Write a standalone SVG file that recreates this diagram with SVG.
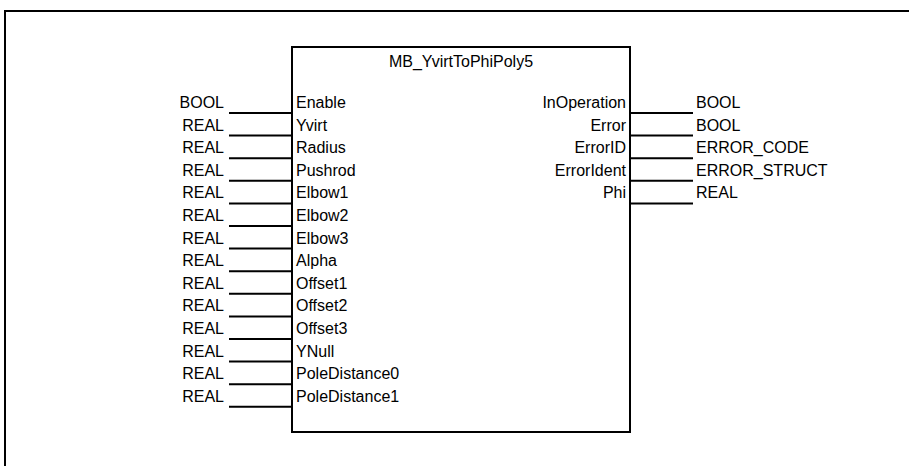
<svg xmlns="http://www.w3.org/2000/svg" width="909" height="466" viewBox="0 0 909 466">
<style>
text{font-family:"Liberation Sans",Arial,sans-serif;font-size:16px;fill:#000}
.r{text-anchor:end}
.c{text-anchor:middle}
.w{stroke:#000;stroke-width:2;fill:none}
</style>
<rect width="909" height="466" fill="#fff"/>
<g id="frame"><path class="w" d="M5,466 V11 H909"/></g>
<g id="block">
<rect class="w" x="292" y="47" width="338" height="385" fill="#fff"/>
<text class="c" x="461" y="66.5">MB_YvirtToPhiPoly5</text>
<text x="296" y="108">Enable</text>
<text x="296" y="130.6">Yvirt</text>
<text x="296" y="153.2">Radius</text>
<text x="296" y="175.8">Pushrod</text>
<text x="296" y="198.4">Elbow1</text>
<text x="296" y="221">Elbow2</text>
<text x="296" y="243.6">Elbow3</text>
<text x="296" y="266.2">Alpha</text>
<text x="296" y="288.8">Offset1</text>
<text x="296" y="311.4">Offset2</text>
<text x="296" y="334">Offset3</text>
<text x="296" y="356.6">YNull</text>
<text x="296" y="379.2">PoleDistance0</text>
<text x="296" y="401.8">PoleDistance1</text>
<text class="r" x="626" y="108">InOperation</text>
<text class="r" x="626" y="130.6">Error</text>
<text class="r" x="626" y="153.2">ErrorID</text>
<text class="r" x="626" y="175.8">ErrorIdent</text>
<text class="r" x="626" y="198.4">Phi</text>
</g>
<g id="inputs">
<text class="r" x="224" y="108">BOOL</text>
<text class="r" x="224" y="130.6">REAL</text>
<text class="r" x="224" y="153.2">REAL</text>
<text class="r" x="224" y="175.8">REAL</text>
<text class="r" x="224" y="198.4">REAL</text>
<text class="r" x="224" y="221">REAL</text>
<text class="r" x="224" y="243.6">REAL</text>
<text class="r" x="224" y="266.2">REAL</text>
<text class="r" x="224" y="288.8">REAL</text>
<text class="r" x="224" y="311.4">REAL</text>
<text class="r" x="224" y="334">REAL</text>
<text class="r" x="224" y="356.6">REAL</text>
<text class="r" x="224" y="379.2">REAL</text>
<text class="r" x="224" y="401.8">REAL</text>
</g>
<g id="outputs">
<text x="696" y="108">BOOL</text>
<text x="696" y="130.6">BOOL</text>
<text x="696" y="153.2">ERROR_CODE</text>
<text x="696" y="175.8">ERROR_STRUCT</text>
<text x="696" y="198.4">REAL</text>
</g>
<g id="connectors">
<path class="w" d="M229,113H292M229,135.6H292M229,158.2H292M229,180.8H292M229,203.4H292M229,226H292M229,248.6H292M229,271.2H292M229,293.8H292M229,316.4H292M229,339H292M229,361.6H292M229,384.2H292M229,406.8H292"/>
<path class="w" d="M630,113H693M630,135.6H693M630,158.2H693M630,180.8H693M630,203.4H693"/>
</g>
</svg>
